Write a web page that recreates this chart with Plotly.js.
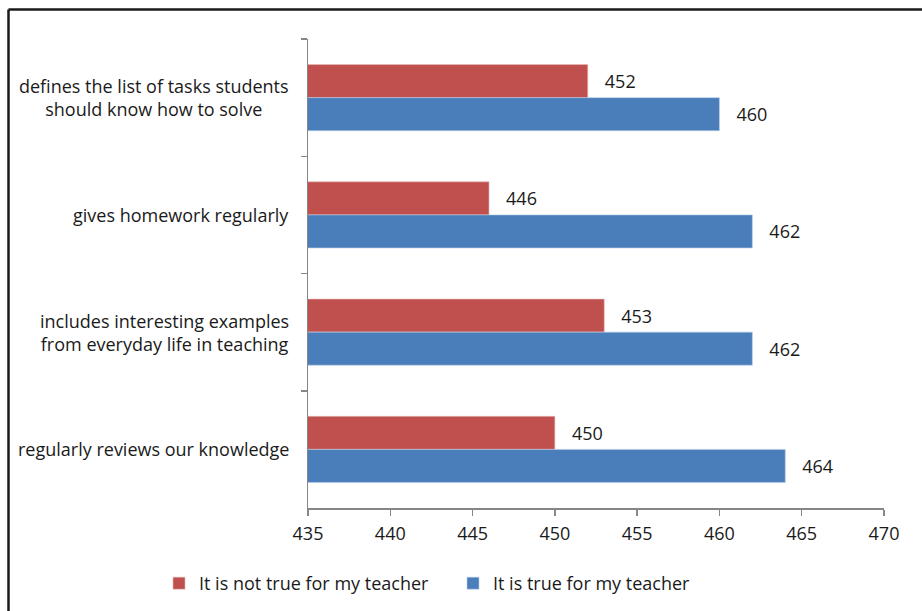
<!DOCTYPE html>
<html>
<head>
<meta charset="utf-8">
<script src="https://cdn.plot.ly/plotly-3.0.1.min.js"></script>
<style>html,body{margin:0;padding:0;background:#fff;}#chart{width:922px;height:611px;}</style>
</head>
<body>
<div id="chart"></div>
<script>
const categories = [
  "defines the list of tasks students<br>should know how to solve",
  "gives homework regularly",
  "includes interesting examples<br>from everyday life in teaching",
  "regularly reviews our knowledge"
];
const notTrueValues = [452, 446, 453, 450];
const trueValues = [460, 462, 462, 464];
const seriesNames = ["It is not true for my teacher", "It is true for my teacher"];
const xTickValues = [435, 440, 445, 450, 455, 460, 465, 470];

const FONT = "Open Sans, Noto Sans, sans-serif";
const pad = "\u00a0\u00a0\u00a0";

const traces = [
  {
    type: "bar", orientation: "h", name: seriesNames[0],
    y: categories, x: notTrueValues,
    marker: {color: "#C0504D", line: {color: "#E6B9B8", width: 0.6}},
    text: notTrueValues.map(v => pad + v), textposition: "outside",
    constraintext: "none", cliponaxis: false,
    textfont: {family: FONT, size: 18, color: "#1a1a1a"},
    hoverinfo: "x+name"
  },
  {
    type: "bar", orientation: "h", name: seriesNames[1],
    y: categories, x: trueValues,
    marker: {color: "#4A7EBB", line: {color: "#B9CDE5", width: 0.6}},
    text: trueValues.map(v => pad + v), textposition: "outside",
    constraintext: "none", cliponaxis: false,
    textfont: {family: FONT, size: 18, color: "#1a1a1a"},
    hoverinfo: "x+name"
  }
];

const L = 308, R = 38, T = 39, B = 103;
const W = 922, H = 611;
const pw = W - L - R, ph = H - T - B;
const px = v => (v - L) / pw;
const py = v => (H - B - v) / ph;

const categoryLabels = categories.map(c => ({
  xref: "paper", yref: "y", x: px(291), y: c, xanchor: "right", yanchor: "middle",
  text: c, align: "center", showarrow: false,
  font: {family: FONT, size: 18, color: "#1a1a1a"}
}));

const layout = {
  width: W, height: H,
  margin: {l: L, r: R, t: T, b: B, pad: 0, autoexpand: false},
  paper_bgcolor: "#fff", plot_bgcolor: "#fff",
  font: {family: FONT, size: 18, color: "#1a1a1a"},
  barmode: "group", bargap: 0.436, bargroupgap: 0,
  showlegend: true,
  legend: {
    orientation: "h", x: px(159), xanchor: "left", y: py(565), yanchor: "top",
    traceorder: "normal", font: {family: FONT, size: 18, color: "#1a1a1a"},
    entrywidth: 249, entrywidthmode: "pixels", itemwidth: 30
  },
  xaxis: {
    range: [435, 470], tickvals: xTickValues, ticktext: xTickValues.map(String),
    showgrid: false, zeroline: false, showline: true, linecolor: "#868686", linewidth: 1.5,
    ticks: "outside", ticklen: 6, tickcolor: "#868686", tickwidth: 1.5,
    ticklabelstandoff: 3, automargin: false,
    tickfont: {family: FONT, size: 18, color: "#1a1a1a"}, fixedrange: true
  },
  yaxis: {
    type: "category", autorange: "reversed",
    showgrid: false, zeroline: false, showline: true, linecolor: "#868686", linewidth: 1.5,
    ticks: "outside", ticklen: 6, tickcolor: "#868686", tickwidth: 1.5, tickson: "boundaries",
    showticklabels: false, automargin: false, fixedrange: true
  },
  annotations: categoryLabels,
  shapes: [
    {type: "line", xref: "paper", yref: "paper", x0: px(8.5), x1: px(930), y0: py(9.5), y1: py(9.5), line: {color: "#1a1a1a", width: 2.5}},
    {type: "line", xref: "paper", yref: "paper", x0: px(8.5), x1: px(8.5), y0: py(9.5), y1: py(620), line: {color: "#1a1a1a", width: 2.5}}
  ]
};

Plotly.newPlot("chart", traces, layout, {displayModeBar: false, staticPlot: true});
</script>
</body>
</html>
